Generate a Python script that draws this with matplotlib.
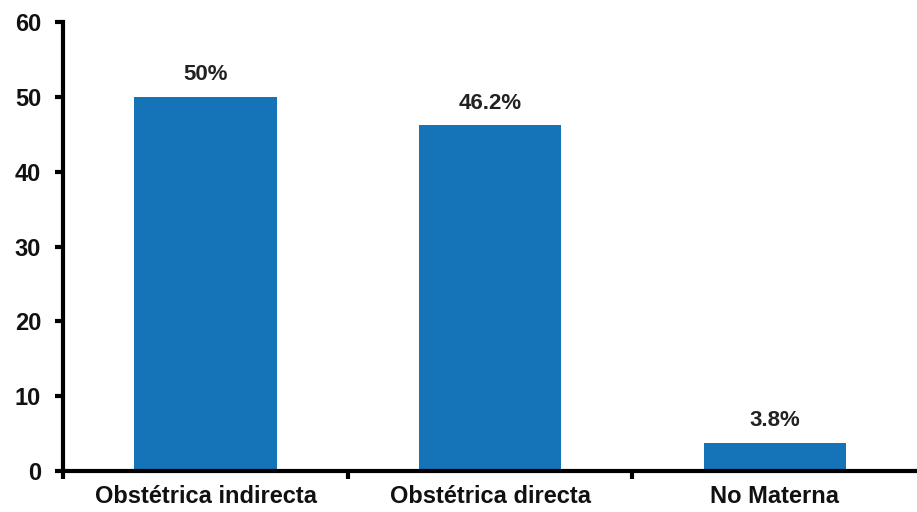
import matplotlib.pyplot as plt
import numpy as np

plt.rcParams['font.family'] = ['Liberation Sans', 'DejaVu Sans']

# Data
categories = ["Obstétrica indirecta", "Obstétrica directa", "No Materna"]
values = [50, 46.2, 3.8]
labels = ["50%", "46.2%", "3.8%"]

fig = plt.figure(figsize=(9.17, 5.12), dpi=100)
ax = fig.add_axes([0.069, 0.080, 0.931, 0.877])

x = np.arange(len(categories))
bars = ax.bar(x, values, width=0.5, color="#1573B7", zorder=2)

# Value labels above bars
for rect, lab in zip(bars, labels):
    ax.annotate(lab, (rect.get_x() + rect.get_width() / 2, rect.get_height()),
                xytext=(0, 12), textcoords="offset points",
                ha="center", va="baseline", fontsize=16, fontweight="bold",
                color="#222222")

ax.set_xlim(-0.5, 2.5)
ax.set_ylim(0, 60)
ax.set_yticks(range(0, 61, 10))

# Category labels centred, tick marks between categories
ax.set_xticks([-0.5, 0.5, 1.5])
ax.set_xticklabels([])
ax.set_xticks(x, minor=True)
ax.set_xticklabels(categories, minor=True, fontsize=17, fontweight="bold",
                   color="#111111")
ax.tick_params(axis="x", which="minor", length=0, pad=10)
ax.tick_params(axis="x", which="major", length=6, width=3, direction="out")
ax.tick_params(axis="y", length=6, width=3, direction="out", labelsize=17,
               pad=10, labelcolor="#111111")
for t in ax.get_yticklabels():
    t.set_fontweight("bold")

for side in ["top", "right"]:
    ax.spines[side].set_visible(False)
for side in ["left", "bottom"]:
    ax.spines[side].set_linewidth(3)

fig.savefig("out.png", dpi=100)
